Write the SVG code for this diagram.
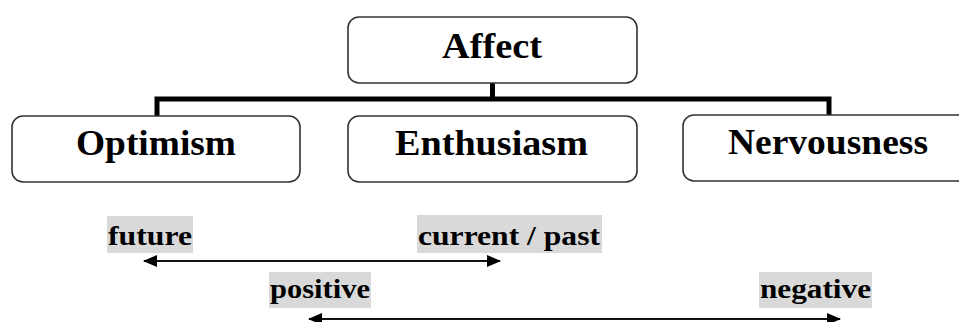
<svg xmlns="http://www.w3.org/2000/svg" width="959" height="322" viewBox="0 0 959 322">
<style>
.box{fill:#fff;stroke:#333;stroke-width:1.6}
.head{font-family:"Liberation Serif","Times New Roman",serif;font-weight:bold;font-size:35px;fill:#000;text-anchor:middle}
.lab{font-family:"Liberation Serif","Times New Roman",serif;font-weight:bold;font-size:28px;fill:#000}
.hl{fill:#d9d9d9}
.tree{fill:none;stroke:#000;stroke-width:5}
.arr{stroke:#111;stroke-width:2;fill:none}
</style>
<defs>
<marker id="ah" viewBox="0 0 14 14" refX="13" refY="7" markerWidth="14" markerHeight="14" markerUnits="userSpaceOnUse" orient="auto-start-reverse">
<path d="M0,1 L14,7 L0,13 Z" fill="#000"/>
</marker>
</defs>
<rect width="959" height="322" fill="#fff"/>
<g id="connectors">
<path class="tree" d="M157,116 V99 H829 V116"/>
<path class="tree" d="M492.5,83 V99"/>
<line class="arr" x1="144" y1="261" x2="500" y2="261" marker-start="url(#ah)" marker-end="url(#ah)"/>
<line class="arr" x1="309" y1="319" x2="840" y2="319" marker-start="url(#ah)" marker-end="url(#ah)"/>
</g>
<g id="affect">
<rect class="box" x="348" y="17" width="289" height="66" rx="11"/>
<text class="head" x="492" y="58" textLength="100" lengthAdjust="spacingAndGlyphs">Affect</text>
</g>
<g id="optimism">
<rect class="box" x="12" y="116" width="288" height="66" rx="11"/>
<text class="head" x="156" y="155" textLength="160" lengthAdjust="spacingAndGlyphs">Optimism</text>
</g>
<g id="enthusiasm">
<rect class="box" x="348" y="116" width="289" height="66" rx="11"/>
<text class="head" x="491.5" y="155" textLength="193" lengthAdjust="spacingAndGlyphs">Enthusiasm</text>
</g>
<g id="nervousness">
<rect class="box" x="683" y="115" width="290" height="66" rx="11"/>
<text class="head" x="828" y="154" textLength="200" lengthAdjust="spacingAndGlyphs">Nervousness</text>
</g>
<g id="label-future">
<rect class="hl" x="107" y="216" width="86" height="37"/>
<text class="lab" x="108" y="245" textLength="84" lengthAdjust="spacingAndGlyphs">future</text>
</g>
<g id="label-current">
<rect class="hl" x="417" y="215" width="185" height="38"/>
<text class="lab" x="418" y="245" textLength="182" lengthAdjust="spacingAndGlyphs">current / past</text>
</g>
<g id="label-positive">
<rect class="hl" x="269" y="272" width="102" height="36"/>
<text class="lab" x="270" y="298" textLength="100" lengthAdjust="spacingAndGlyphs">positive</text>
</g>
<g id="label-negative">
<rect class="hl" x="759" y="272" width="113" height="36"/>
<text class="lab" x="760" y="298" textLength="111" lengthAdjust="spacingAndGlyphs">negative</text>
</g>
</svg>
